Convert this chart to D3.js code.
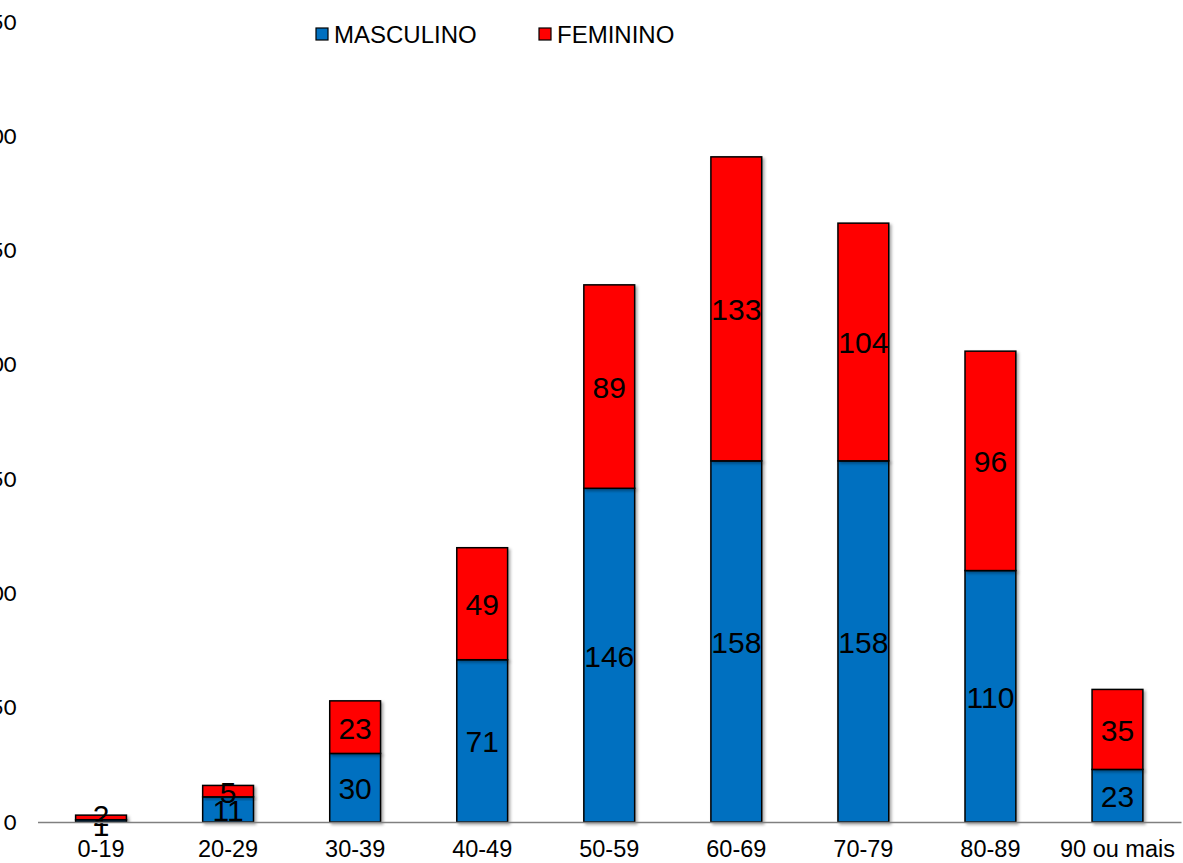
<!DOCTYPE html>
<html>
<head>
  <meta charset="utf-8">
  <title>faixa etaria</title>
  <script src="https://d3js.org/d3.v7.min.js"></script>
  <style>
    body { margin: 0; padding: 0; background: #fff; }
    svg text { font-family: "Liberation Sans", Arial, sans-serif; }
  </style>
</head>
<body>
  <div id="my_dataviz"></div>
  <script>
    // data
    var faixas = ["0-19", "20-29", "30-39", "40-49", "50-59", "60-69", "70-79", "80-89", "90 ou mais"]
    var masculino = [1, 11, 30, 71, 146, 158, 158, 110, 23]
    var feminino = [2, 5, 23, 49, 89, 133, 104, 96, 35]
    var yTicks = [0, 50, 100, 150, 200, 250, 300, 350]
    var series = ["MASCULINO", "FEMININO"]
    var cores = ["#0070C0", "#FF0000"]

    var W = 1183, H = 863
    var margin = { top: 22, right: 2, bottom: 41, left: 37.5 }
    var width = W - margin.left - margin.right,
      height = H - margin.top - margin.bottom

    var svg = d3.select("#my_dataviz").append("svg")
      .attr("width", W).attr("height", H)

    // slight shadow like the excel bars
    var f = svg.append("defs").append("filter").attr("id", "sombra")
      .attr("x", "-20%").attr("y", "-20%").attr("width", "150%").attr("height", "150%")
    f.append("feDropShadow").attr("dx", 2).attr("dy", 2)
      .attr("stdDeviation", 1.5).attr("flood-color", "#000").attr("flood-opacity", 0.35)

    var g = svg.append("g").attr("transform", "translate(" + margin.left + "," + margin.top + ")")

    var x = d3.scaleBand().domain(faixas).range([0, width]).paddingInner(0.6).paddingOuter(0.3)
    var y = d3.scaleLinear().domain([0, 350]).range([height, 0])

    // y axis: labels only, cut off at the left edge
    var yAxis = g.append("g")
      .call(d3.axisLeft(y).tickValues(yTicks).tickSize(0).tickPadding(21))
    yAxis.select(".domain").remove()
    yAxis.selectAll("text")
      .style("font-family", "Lato, 'Open Sans', sans-serif")
      .style("font-size", "22px").attr("fill", "#000")

    var rows = faixas.map(function (d, i) {
      return { faixa: d, MASCULINO: masculino[i], FEMININO: feminino[i] }
    })
    var stacked = d3.stack().keys(series)(rows)

    var layers = g.selectAll(".layer").data(stacked).enter().append("g")
      .attr("class", "layer")
      .attr("fill", function (d, i) { return cores[i] })

    layers.selectAll("rect").data(function (d) { return d }).enter().append("rect")
      .attr("x", function (d) { return x(d.data.faixa) })
      .attr("y", function (d) { return y(d[1]) })
      .attr("width", x.bandwidth())
      .attr("height", function (d) { return y(d[0]) - y(d[1]) })
      .attr("stroke", "#000").attr("stroke-width", 1.5)
      .attr("filter", "url(#sombra)")

    // x axis line
    var xAxis = g.append("g").attr("transform", "translate(0," + height + ")")
      .call(d3.axisBottom(x).tickSize(0).tickPadding(18))
    xAxis.select(".domain").attr("stroke", "#808080").attr("stroke-width", 1.5)
    xAxis.selectAll("text").style("font-size", "23.5px").attr("fill", "#000")

    // data labels (the tiny first segments are nudged apart like in excel)
    layers.selectAll(".lbl").data(function (d) { return d }).enter().append("text")
      .attr("class", "lbl")
      .attr("x", function (d) { return x(d.data.faixa) + x.bandwidth() / 2 })
      .attr("y", function (d) {
        var mid = (y(d[0]) + y(d[1])) / 2
        if (y(d[0]) - y(d[1]) < 10) mid += (d[0] === 0 ? 4 : -3)
        return mid
      })
      .attr("dy", "0.38em")
      .attr("text-anchor", "middle")
      .attr("fill", "#000")
      .style("font-size", "30px")
      .text(function (d) { return d[1] - d[0] })

    // legend
    var leg = svg.append("g").attr("transform", "translate(316,28)")
    var item = leg.selectAll(".item").data(series).enter().append("g")
      .attr("transform", function (d, i) { return "translate(" + (i * 223) + ",0)" })
    item.append("rect").attr("width", 12).attr("height", 12)
      .attr("fill", function (d, i) { return cores[i] })
      .attr("stroke", "#000").attr("stroke-width", 1.2)
    item.append("text").attr("x", 18).attr("y", 6).attr("dy", "0.36em")
      .style("font-size", "24px").attr("fill", "#000")
      .text(function (d) { return d })
  </script>
</body>
</html>
